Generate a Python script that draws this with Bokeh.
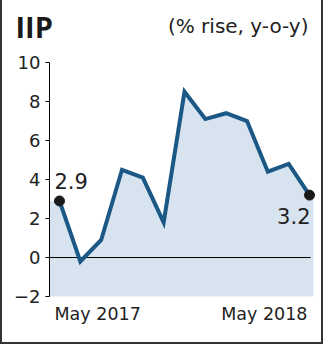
from bokeh.plotting import figure
from bokeh.models import Range1d, Label, FixedTicker, LinearAxis
from bokeh.embed import file_html
from bokeh.resources import INLINE

# Data: IIP growth, % y-o-y, May 2017 .. May 2018
months = ["May 2017", "Jun 2017", "Jul 2017", "Aug 2017", "Sep 2017", "Oct 2017",
          "Nov 2017", "Dec 2017", "Jan 2018", "Feb 2018", "Mar 2018", "Apr 2018", "May 2018"]
values = [2.9, -0.2, 0.9, 4.5, 4.1, 1.8, 8.5, 7.1, 7.4, 7.0, 4.4, 4.8, 3.2]
y_ticks = [-2, 0, 2, 4, 6, 8, 10]
title_text = "IIP"
subtitle_text = "(% rise, y-o-y)"
x_labels = ["May 2017", "May 2018"]

FONT = "DejaVu Sans"
TITLE_FONT = "Open Sans"
LINE = "#1b5886"
FILL = "#d7e3ef"
TXT = "#222222"

idx = list(range(len(values)))

# layout (frame spans the whole canvas; axis sits at a fixed location inside it)
AXIS_X = -0.48
FILL_END = 12.19
x_range = Range1d(-2.736, 12.768)
y_range = Range1d(-4.46, 13.18)

W, H = 323, 344
p = figure(width=W, height=H, x_range=x_range, y_range=y_range,
           output_backend="svg", toolbar_location=None, x_axis_location=None,
           y_axis_location=None,
           min_border=0, min_border_left=0, min_border_right=0,
           min_border_top=0, min_border_bottom=0,
           styles={"border-left": "2px solid #333", "border-right": "2px solid #333",
                   "border-bottom": "2px solid #333"})
p.outline_line_color = None
p.xgrid.visible = False
p.ygrid.visible = False
p.background_fill_color = "white"
p.border_fill_color = "white"

# area fill, extended flat to the plot edges
fx = [AXIS_X] + idx + [FILL_END]
fy = [values[0]] + values + [values[-1]]
p.varea(x=fx, y1=[y_ticks[0]] * len(fx), y2=fy, fill_color=FILL)

# zero line
p.segment(x0=[AXIS_X], x1=[FILL_END - 0.14], y0=[0], y1=[0], line_color="black", line_width=1)

p.line(idx, values, line_color=LINE, line_width=4, line_join="miter")
p.scatter([idx[0], idx[-1]], [values[0], values[-1]], size=10, color="#1a1a1a")

yax = LinearAxis(fixed_location=AXIS_X, bounds=(y_ticks[0], y_ticks[-1]))
yax.ticker = FixedTicker(ticks=y_ticks)
yax.minor_tick_line_color = None
yax.major_tick_in = 0
yax.major_tick_out = 4
yax.axis_line_color = "black"
yax.major_tick_line_color = "black"
yax.major_label_text_font = FONT
yax.major_label_text_font_size = "18px"
yax.major_label_text_color = TXT
yax.major_label_standoff = 5
p.add_layout(yax, "left")

# value labels
p.add_layout(Label(x=idx[0], y=values[0], text=f"{values[0]:.1f}", x_offset=-5, y_offset=20,
                   text_font=FONT, text_font_size="21px", text_color=TXT,
                   text_align="left", text_baseline="alphabetic"))
p.add_layout(Label(x=idx[-1], y=values[-1], text=f"{values[-1]:.1f}", x_offset=1, y_offset=-21,
                   text_font=FONT, text_font_size="21px", text_color=TXT,
                   text_align="right", text_baseline="alphabetic"))

# x labels under the chart
p.add_layout(Label(x=idx[0], y=31, y_units="screen", text=x_labels[0], x_offset=-5,
                   text_font=FONT, text_font_size="17.5px", text_color=TXT,
                   text_align="left", text_baseline="alphabetic"))
p.add_layout(Label(x=idx[-1], y=31, y_units="screen", text=x_labels[1], x_offset=-2,
                   text_font=FONT, text_font_size="17.5px", text_color=TXT,
                   text_align="right", text_baseline="alphabetic"))

# title and subtitle
p.add_layout(Label(x=13, y=318, x_units="screen", y_units="screen", text=title_text,
                   text_font=TITLE_FONT, text_font_size="29px", text_font_style="bold",
                   text_color="#1a1a1a", text_align="left", text_baseline="alphabetic"))
p.add_layout(Label(x=306, y=319, x_units="screen", y_units="screen", text=subtitle_text,
                   text_font=FONT, text_font_size="20px",
                   text_color=TXT, text_align="right", text_baseline="alphabetic"))

open("out.html", "w").write(file_html(p, INLINE))
